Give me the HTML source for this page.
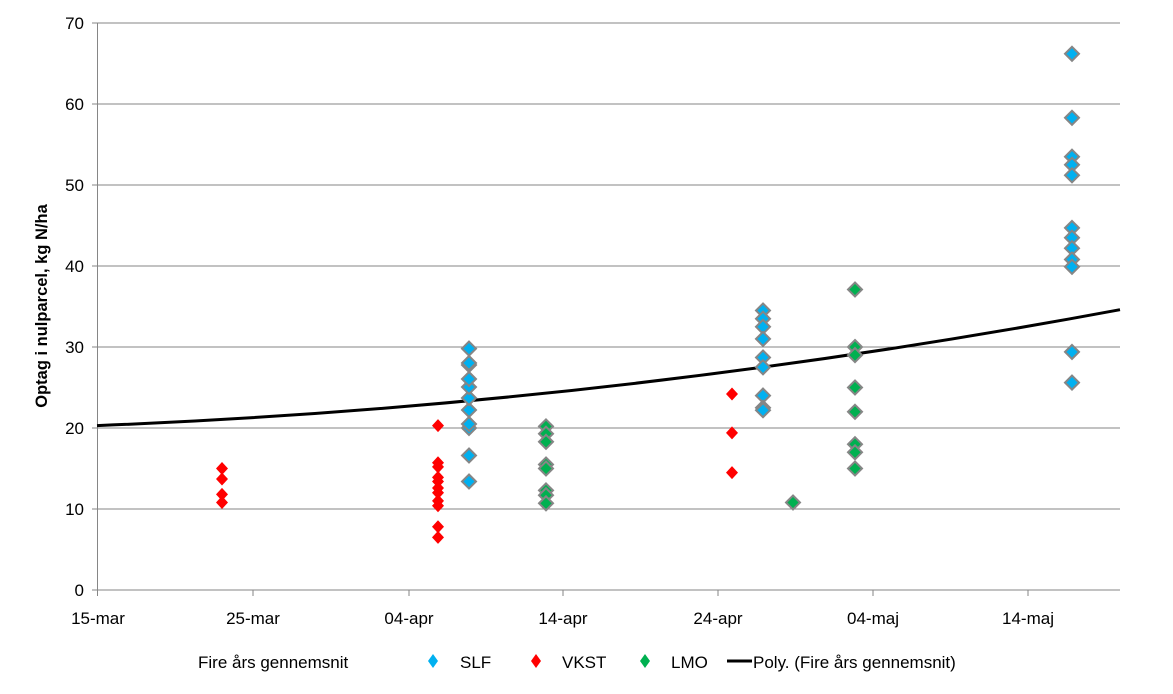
<!DOCTYPE html>
<html><head><meta charset="utf-8"><style>
html,body{margin:0;padding:0;background:#fff;}
svg{display:block;font-family:"Liberation Sans",sans-serif;}
</style></head><body>
<svg width="1173" height="694" viewBox="0 0 1173 694" xmlns="http://www.w3.org/2000/svg">
<defs>
<path id="d" d="M0,-7 L7,0 L0,7 L-7,0 Z"/>
<path id="r" d="M0,-6.5 L6,0 L0,6.5 L-6,0 Z"/>
</defs>
<g stroke="#868686" stroke-width="1">
<line x1="92" y1="23" x2="1120" y2="23"/>
<line x1="92" y1="104" x2="1120" y2="104"/>
<line x1="92" y1="185" x2="1120" y2="185"/>
<line x1="92" y1="266" x2="1120" y2="266"/>
<line x1="92" y1="347" x2="1120" y2="347"/>
<line x1="92" y1="428" x2="1120" y2="428"/>
<line x1="92" y1="509" x2="1120" y2="509"/>
<line x1="92" y1="590" x2="1120" y2="590"/>
<line x1="97.5" y1="23" x2="97.5" y2="596"/>
<line x1="253" y1="590" x2="253" y2="596"/>
<line x1="409" y1="590" x2="409" y2="596"/>
<line x1="563" y1="590" x2="563" y2="596"/>
<line x1="718" y1="590" x2="718" y2="596"/>
<line x1="873" y1="590" x2="873" y2="596"/>
<line x1="1028" y1="590" x2="1028" y2="596"/>
</g>
<g font-size="17" fill="#000" text-anchor="end">
<text x="84" y="29">70</text><text x="84" y="110">60</text><text x="84" y="191">50</text>
<text x="84" y="272">40</text><text x="84" y="353">30</text><text x="84" y="434">20</text>
<text x="84" y="515">10</text><text x="84" y="596">0</text>
</g>
<g font-size="17" fill="#000" text-anchor="middle">
<text x="98" y="624">15-mar</text><text x="253" y="624">25-mar</text><text x="409" y="624">04-apr</text>
<text x="563" y="624">14-apr</text><text x="718" y="624">24-apr</text><text x="873" y="624">04-maj</text>
<text x="1028" y="624">14-maj</text>
</g>
<text transform="translate(47,306) rotate(-90)" font-size="16.5" font-weight="bold" text-anchor="middle">Optag i nulparcel, kg N/ha</text>
<path d="M97,425.6 Q608.5,405.1 1120,309.7" fill="none" stroke="#000" stroke-width="3"/>
<g fill="#ff0000">
<use href="#r" x="222" y="468.5"/><use href="#r" x="222" y="479"/><use href="#r" x="222" y="494.4"/><use href="#r" x="222" y="502.5"/>
<use href="#r" x="438" y="425.6"/><use href="#r" x="438" y="462.8"/><use href="#r" x="438" y="466.9"/><use href="#r" x="438" y="477.4"/><use href="#r" x="438" y="481.5"/><use href="#r" x="438" y="488"/><use href="#r" x="438" y="492.8"/><use href="#r" x="438" y="500.9"/><use href="#r" x="438" y="505.8"/><use href="#r" x="438" y="526.8"/><use href="#r" x="438" y="537.4"/>
<use href="#r" x="732" y="394"/><use href="#r" x="732" y="432.9"/><use href="#r" x="732" y="472.6"/>
</g>
<g fill="#00b0f0" stroke="#868686" stroke-width="2">
<use href="#d" x="469" y="428"/><use href="#d" x="469" y="424"/><use href="#d" x="469" y="410"/><use href="#d" x="469" y="398"/><use href="#d" x="469" y="387"/><use href="#d" x="469" y="379"/><use href="#d" x="469" y="365"/><use href="#d" x="469" y="363"/><use href="#d" x="469" y="348.6"/><use href="#d" x="469" y="455.5"/><use href="#d" x="469" y="481.5"/>
<use href="#d" x="763" y="310.5"/><use href="#d" x="763" y="318.7"/><use href="#d" x="763" y="326.8"/><use href="#d" x="763" y="338.9"/><use href="#d" x="763" y="357.5"/><use href="#d" x="763" y="367.3"/><use href="#d" x="763" y="395.6"/><use href="#d" x="763" y="407.8"/><use href="#d" x="763" y="410.2"/>
<use href="#d" x="1072" y="53.8"/><use href="#d" x="1072" y="117.8"/><use href="#d" x="1072" y="156.7"/><use href="#d" x="1072" y="164.8"/><use href="#d" x="1072" y="175.3"/><use href="#d" x="1072" y="227.9"/><use href="#d" x="1072" y="237.7"/><use href="#d" x="1072" y="248.2"/><use href="#d" x="1072" y="259.5"/><use href="#d" x="1072" y="266.8"/><use href="#d" x="1072" y="351.9"/><use href="#d" x="1072" y="382.6"/>
</g>
<g fill="#00b050" stroke="#868686" stroke-width="2">
<use href="#d" x="546" y="426.4"/><use href="#d" x="546" y="433.7"/><use href="#d" x="546" y="441.8"/><use href="#d" x="546" y="464.5"/><use href="#d" x="546" y="468.5"/><use href="#d" x="546" y="490.4"/><use href="#d" x="546" y="495.2"/><use href="#d" x="546" y="503.3"/>
<use href="#d" x="793" y="502.5"/>
<use href="#d" x="855" y="289.5"/><use href="#d" x="855" y="347"/><use href="#d" x="855" y="355.1"/><use href="#d" x="855" y="387.5"/><use href="#d" x="855" y="411.8"/><use href="#d" x="855" y="444.2"/><use href="#d" x="855" y="452.3"/><use href="#d" x="855" y="468.5"/>
</g>
<g font-size="17" fill="#000">
<text x="198" y="668">Fire års gennemsnit</text>
<path d="M433,654 L438,661 L433,668 L428,661 Z" fill="#00b0f0"/>
<text x="460" y="668">SLF</text>
<path d="M536,654 L541,661 L536,668 L531,661 Z" fill="#ff0000"/>
<text x="562" y="668">VKST</text>
<path d="M645,654 L650,661 L645,668 L640,661 Z" fill="#00b050"/>
<text x="671" y="668">LMO</text>
<line x1="727" y1="661" x2="752" y2="661" stroke="#000" stroke-width="3"/>
<text x="753" y="668">Poly. (Fire års gennemsnit)</text>
</g>
</svg>
</body></html>
